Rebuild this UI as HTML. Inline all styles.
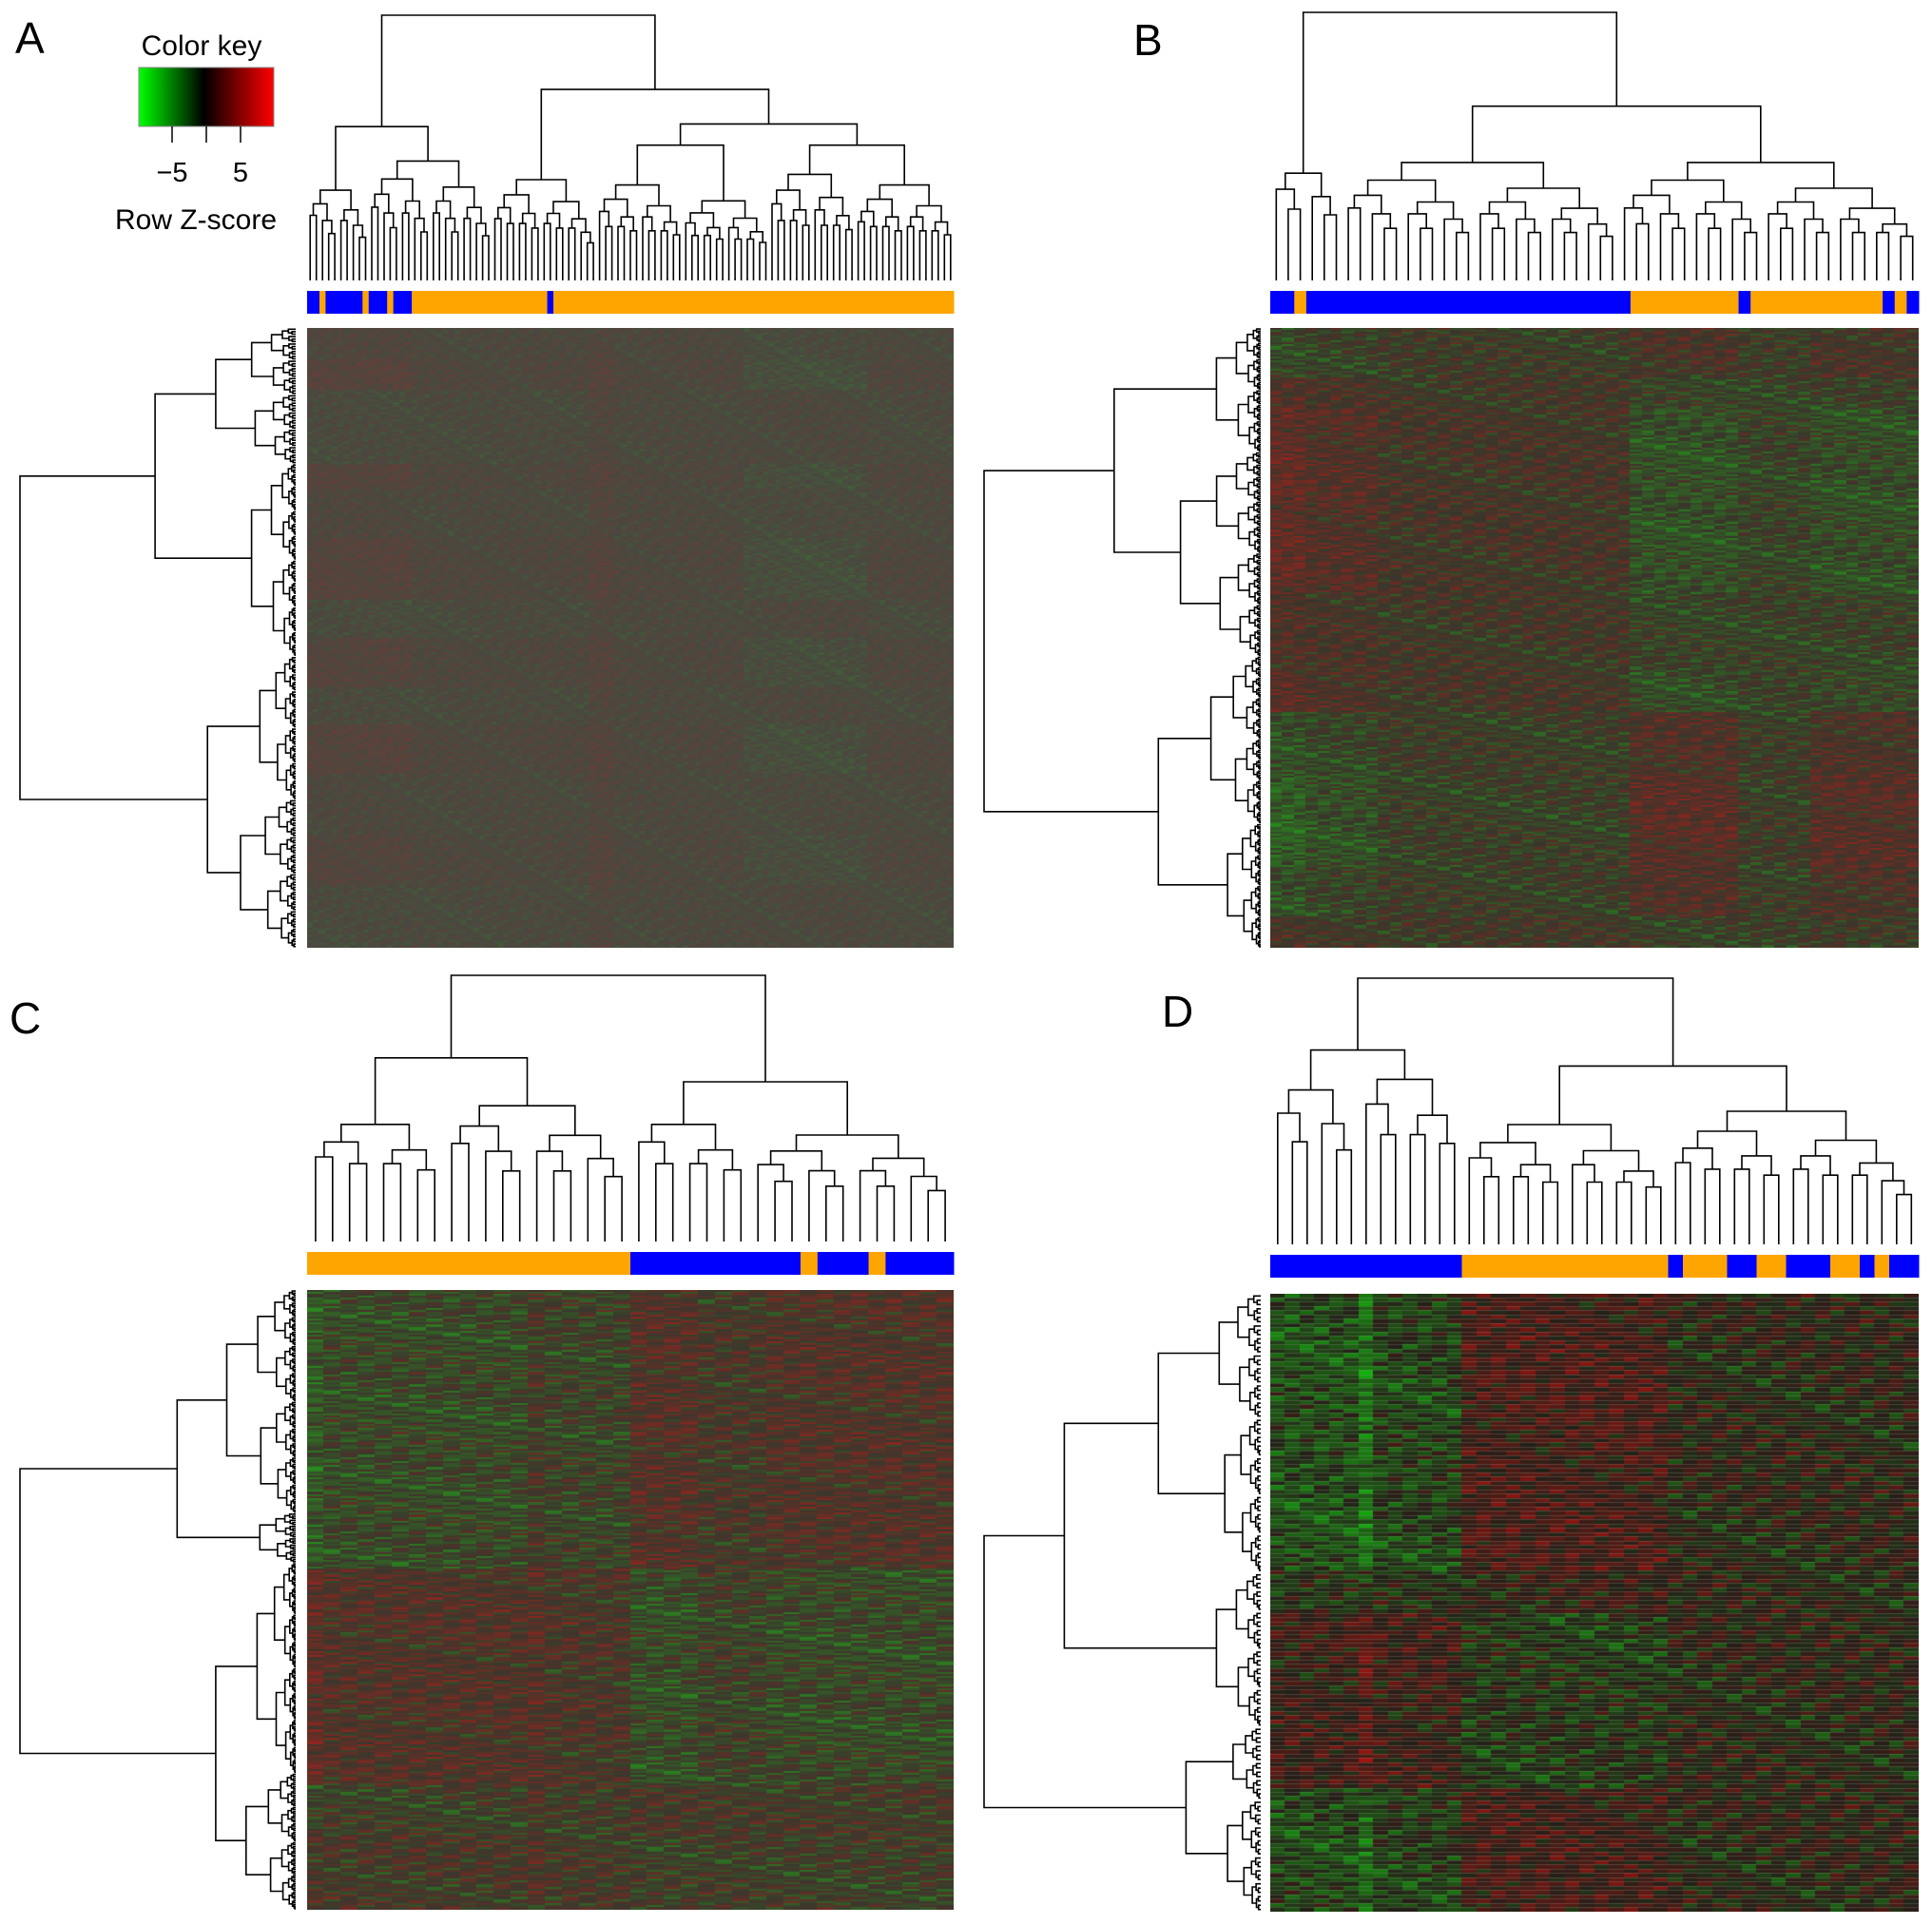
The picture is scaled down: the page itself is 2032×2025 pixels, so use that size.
<!DOCTYPE html>
<html><head><meta charset="utf-8">
<style>
html,body{margin:0;padding:0;background:#fff;}
#wrap{position:relative;width:2032px;height:2025px;overflow:hidden;font-family:"Liberation Sans",sans-serif;}
canvas{position:absolute;}
svg{position:absolute;left:0;top:0;}
</style></head>
<body>
<div id="wrap">
<canvas id="hmA" style="left:323px;top:345px" width="680" height="652"></canvas>
<canvas id="hmB" style="left:1336px;top:345px" width="682" height="652"></canvas>
<canvas id="hmC" style="left:323px;top:1357px" width="680" height="652"></canvas>
<canvas id="hmD" style="left:1336px;top:1361px" width="682" height="650"></canvas>
<svg id="svg" width="2032" height="2025">
<defs><linearGradient id="kg" x1="0" x2="1" y1="0" y2="0">
<stop offset="0" stop-color="#00ff00"/><stop offset="0.48" stop-color="#000"/><stop offset="1" stop-color="#ff0000"/></linearGradient></defs>
<g>
<text x="212" y="58" font-size="30" text-anchor="middle">Color key</text>
<rect x="146" y="71" width="142" height="62" fill="url(#kg)" stroke="#888" stroke-width="1"/>
<path d="M181 133V150M217 133V150M253 133V150" stroke="#000" stroke-width="1.5"/>
<text x="181" y="191" font-size="29" text-anchor="middle">−5</text>
<text x="253" y="191" font-size="29" text-anchor="middle">5</text>
<text x="206" y="241" font-size="30" text-anchor="middle">Row Z-score</text>
</g>
<text x="16" y="56" font-size="46">A</text>
<text x="1192" y="58" font-size="46">B</text>
<text x="10" y="1087" font-size="46">C</text>
<text x="1222" y="1080" font-size="46">D</text>
</svg>
</div>
<script>
// ---- data: column group labels (b=blue, o=orange), run-length
const aGroups = [[2,'b'],[1,'o'],[6,'b'],[1,'o'],[3,'b'],[1,'o'],[3,'b'],[22,'o'],[1,'b'],[65,'o']];
const bGroups = [[2,'b'],[1,'o'],[27,'b'],[9,'o'],[1,'b'],[11,'o'],[1,'b'],[1,'o'],[1,'b']];
const cGroups = [[19,'o'],[10,'b'],[1,'o'],[3,'b'],[1,'o'],[4,'b']];
const dGroups = [[13,'b'],[14,'o'],[1,'b'],[3,'o'],[2,'b'],[2,'o'],[3,'b'],[2,'o'],[1,'b'],[1,'o'],[2,'b']];
// column runs: [count, loading, mean]
const aColRuns = [[17,0.9,0.03],[29,0.3,0],[4,0.3,0.18],[21,0.2,0.02],[20,-0.5,-0.02],[14,0.3,0]];
const bColRuns = [[3,1.0,0],[6,0.6,0],[21,0.2,0],[9,-0.7,0],[6,-0.1,-0.1],[9,-0.6,0]];
const cColRuns = [[1,1.0,0],[12,0.5,0],[1,0.3,0.15],[5,0.3,0],[4,-0.6,0],[4,-0.2,0],[11,-0.5,0]];
const dColRuns = [[6,-0.6,-0.1],[1,-1.4,-0.1],[6,-0.5,-0.05],[14,0.5,0.05],[17,0.0,0]];
// row bands: [fraction, value]
const aBands = [[0.05,0.1],[0.05,0.35],[0.12,-0.1],[0.04,0.3],[0.08,0.05],[0.1,0.3],[0.06,-0.15],[0.08,0.25],[0.06,-0.1],[0.08,0.3],[0.1,0],[0.08,0.2],[0.1,-0.1]];
const bBands = [[0.08,-0.2],[0.05,0.2],[0.3,0.45],[0.12,0.2],[0.07,0.35],[0.1,-0.3],[0.15,-0.5],[0.08,-0.3],[0.05,0.1]];
const cBands = [[0.45,-0.35],[0.35,0.35],[0.08,-0.1],[0.12,0.1]];
const dBands = [[0.45,0.45],[0.07,0.1],[0.28,-0.45],[0.2,0.35]];
// cell texture
const rowJit = [0.6,-0.8,0.2,1.0,-0.4,-1.0,0.7,-0.2,0.9,-0.6,0.3];
const colJit = [0.8,-0.5,1.0,-0.9,0.3,-0.2,0.6];
// dendrograms: [h,left,right] or [h,nLeaves] (cluster); rows use fractions of rows
const aColTree = [1,[0.58,[0.34,10],[0.45,20]],[0.72,[0.38,17],[0.59,[0.51,[0.36,14],[0.3,14]],[0.51,[0.4,14],[0.36,16]]]]];
const bColTree = [1,[0.4,6],[0.65,[0.44,23],[0.44,25]]];
const cColTree = [1,[0.69,[0.44,8],[0.51,11]],[0.6,[0.44,7],[0.4,12]]];
const dColTree = [1,[0.73,[0.58,6],[0.62,7]],[0.67,[0.45,14],[0.5,17]]];
const aRowTree = [1,[0.51,[0.29,0.22],[0.16,0.31]],[0.32,[0.13,0.23],[0.2,0.24]]];
const bRowTree = [1,[0.53,[0.16,0.2],[0.29,0.33]],[0.37,[0.18,0.27],[0.12,0.2]]];
const cRowTree = [1,[0.43,[0.25,0.36],[0.13,0.08]],[0.29,[0.14,0.34],[0.18,0.22]]];
const dRowTree = [1,[0.71,[0.37,[0.15,0.2],[0.13,0.25]],[0.16,0.25]],[0.27,[0.1,0.12],[0.12,0.18]]];

const NS='http://www.w3.org/2000/svg';
const svg=document.getElementById('svg');
function expand(runs){const o=[];runs.forEach(r=>{for(let i=0;i<r[0];i++)o.push(r.slice(1));});return o;}
function bandOf(bands,n){const o=[];let acc=0;bands.forEach((b,i)=>{const end=Math.round((acc+b[0])*n);for(let r=o.length;r<end;r++)o.push(b[1]);acc+=b[0];});while(o.length<n)o.push(bands[bands.length-1][1]);return o;}

function heat(id,runs,bands,nRows,amp,jit,base,lines){
  const cv=document.getElementById(id),ctx=cv.getContext('2d');
  const cols=expand(runs),rows=bandOf(bands,nRows);
  const W=cv.width,H=cv.height,cw=W/cols.length,rh=H/nRows;
  for(let r=0;r<nRows;r++)for(let c=0;c<cols.length;c++){
    let v=(cols[c][1]+rows[r]*cols[c][0])*amp+rowJit[(r*3+c)%11]*colJit[(c*2+r)%7]*jit;
    v=Math.max(-1,Math.min(1,v));
    let R,G,B;
    if(v>=0){R=base[0]+(225-base[0])*v;G=base[1]*(1-0.6*v);B=base[2]*(1-0.6*v);}
    else{const u=-v;G=base[1]+(215-base[1])*u;R=base[0]*(1-0.6*u);B=base[2]*(1-0.6*u);}
    ctx.fillStyle='rgb('+(R|0)+','+(G|0)+','+(B|0)+')';
    ctx.fillRect(Math.floor(c*cw),Math.floor(r*rh),Math.ceil(cw)+1,Math.ceil(rh)+1);
  }
  if(lines){ctx.fillStyle='rgba(150,150,150,0.3)';for(let r=1;r<nRows;r++)ctx.fillRect(0,Math.floor(r*rh),W,1);}
}
heat('hmA',aColRuns,aBands,250,0.25,0.1,[74,72,64],false);
heat('hmB',bColRuns,bBands,300,0.5,0.28,[58,54,44],false);
heat('hmC',cColRuns,cBands,300,0.6,0.33,[60,55,45],false);
heat('hmD',dColRuns,dBands,145,0.6,0.35,[36,32,24],true);

function colorBar(groups,x0,x1,y0,y1,name){
  const n=groups.reduce((s,g)=>s+g[0],0),w=(x1-x0)/n;let i=0;
  groups.forEach(g=>{const r=document.createElementNS(NS,'rect');
    r.setAttribute('x',x0+i*w);r.setAttribute('y',y0);r.setAttribute('width',g[0]*w+0.5);r.setAttribute('height',y1-y0);
    r.setAttribute('fill',g[1]==='b'?'#0000ff':'#ffa500');
    
    
    svg.appendChild(r);i+=g[0];});
}
colorBar(aGroups,323,1003,306,330,'group-bar-a');
colorBar(bGroups,1336,2018,306,330,'group-bar-b');
colorBar(cGroups,323,1003,1317,1341,'group-bar-c');
colorBar(dGroups,1336,2018,1320,1344,'group-bar-d');

function build(node,factor,isRow,nTotal){
  if(node.length===2){const n=isRow?Math.max(1,Math.round(node[1]*nTotal)):node[1];return bal(n,node[0],factor);}
  return {h:node[0],kids:[build(node[1],factor,isRow,nTotal),build(node[2],factor,isRow,nTotal)]};
}
function bal(n,h,f){if(n===1)return {h:0,leaf:true};const a=Math.floor(n/2);
  const ch=(m,hh)=>m===1?{h:0,leaf:true}:bal(m,hh,f);
  return {h:h,kids:[ch(a,h*f),ch(n-a,h*f*0.92)]};}
function countLeaves(t){return t.leaf?1:countLeaves(t.kids[0])+countLeaves(t.kids[1]);}
function dendro(tree,factor,isRow,nRows,p,name){
  const t=build(tree,factor,isRow,nRows),n=countLeaves(t);let idx=0,d='';
  const step=(p.b1-p.b0)/n;
  function pos(node){if(node.leaf){const c=p.b0+(idx+0.5)*step;idx++;return c;}
    const a=pos(node.kids[0]),b=pos(node.kids[1]);
    const hp=p.e-node.h*(p.e-p.t),ha=p.e-node.kids[0].h*(p.e-p.t),hb=p.e-node.kids[1].h*(p.e-p.t);
    if(isRow)d+='M'+ha.toFixed(1)+' '+a.toFixed(1)+'H'+hp.toFixed(1)+'V'+b.toFixed(1)+'H'+hb.toFixed(1);
    else d+='M'+a.toFixed(1)+' '+ha.toFixed(1)+'V'+hp.toFixed(1)+'H'+b.toFixed(1)+'V'+hb.toFixed(1);
    return (a+b)/2;}
  pos(t);
  const path=document.createElementNS(NS,'path');
  path.setAttribute('d',d);path.setAttribute('fill','none');path.setAttribute('stroke','#000');path.setAttribute('stroke-width','1.6');
  
  
  svg.appendChild(path);
}
dendro(aColTree,0.85,false,0,{b0:323,b1:1003,e:295,t:16},'column-dendrogram-a');
dendro(bColTree,0.85,false,0,{b0:1336,b1:2018,e:295,t:13},'column-dendrogram-b');
dendro(cColTree,0.85,false,0,{b0:323,b1:1003,e:1306,t:1026},'column-dendrogram-c');
dendro(dColTree,0.85,false,0,{b0:1336,b1:2018,e:1309,t:1029},'column-dendrogram-d');
dendro(aRowTree,0.55,true,250,{b0:345,b1:997,e:311,t:21},'row-dendrogram-a');
dendro(bRowTree,0.55,true,300,{b0:345,b1:997,e:1326,t:1035},'row-dendrogram-b');
dendro(cRowTree,0.55,true,300,{b0:1357,b1:2009,e:311,t:21},'row-dendrogram-c');
dendro(dRowTree,0.55,true,145,{b0:1361,b1:2011,e:1326,t:1035},'row-dendrogram-d');
</script>
</body></html>
